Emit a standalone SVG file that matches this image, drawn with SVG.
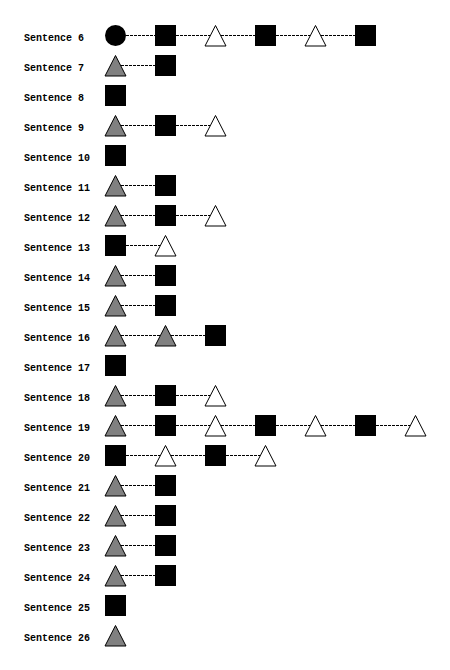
<svg xmlns="http://www.w3.org/2000/svg" xmlns:xlink="http://www.w3.org/1999/xlink" width="450" height="670" viewBox="0 0 450 670">
  <style>
    .lbl { font-family: "Liberation Mono", "DejaVu Sans Mono", monospace; font-size: 10px; font-weight: bold; fill: #000; }
    .link { stroke: #000; stroke-width: 1; stroke-dasharray: 3 1; fill: none; }
  </style>
  <defs>
    <!-- shapes drawn around their own centre -->
    <rect id="sq" x="-10.5" y="-10.5" width="21" height="21" fill="#000"/>
    <circle id="ci" cx="0" cy="0" r="10.5" fill="#000"/>
    <polygon id="tg" points="0,-10 -10.5,10.5 10.5,10.5" fill="#808080" stroke="#000" stroke-width="1"/>
    <polygon id="tw" points="0,-10 -10.5,10.5 10.5,10.5" fill="#fff" stroke="#000" stroke-width="1"/>
  </defs>
  <rect width="450" height="670" fill="#fff"/>

  <!-- dashed links between consecutive shapes -->
  <g id="connectors">
    <line class="link" x1="126" y1="35.5" x2="155" y2="35.5"/>
    <line class="link" x1="176" y1="35.5" x2="210" y2="35.5"/>
    <line class="link" x1="221" y1="35.5" x2="255" y2="35.5"/>
    <line class="link" x1="276" y1="35.5" x2="310" y2="35.5"/>
    <line class="link" x1="321" y1="35.5" x2="355" y2="35.5"/>

    <line class="link" x1="121" y1="65.5" x2="155" y2="65.5"/>

    <line class="link" x1="121" y1="125.5" x2="155" y2="125.5"/>
    <line class="link" x1="176" y1="125.5" x2="210" y2="125.5"/>

    <line class="link" x1="121" y1="185.5" x2="155" y2="185.5"/>

    <line class="link" x1="121" y1="215.5" x2="155" y2="215.5"/>
    <line class="link" x1="176" y1="215.5" x2="210" y2="215.5"/>

    <line class="link" x1="126" y1="245.5" x2="160" y2="245.5"/>

    <line class="link" x1="121" y1="275.5" x2="155" y2="275.5"/>
    <line class="link" x1="121" y1="305.5" x2="155" y2="305.5"/>

    <line class="link" x1="121" y1="335.5" x2="160" y2="335.5"/>
    <line class="link" x1="171" y1="335.5" x2="205" y2="335.5"/>

    <line class="link" x1="121" y1="395.5" x2="155" y2="395.5"/>
    <line class="link" x1="176" y1="395.5" x2="210" y2="395.5"/>

    <line class="link" x1="121" y1="425.5" x2="155" y2="425.5"/>
    <line class="link" x1="176" y1="425.5" x2="210" y2="425.5"/>
    <line class="link" x1="221" y1="425.5" x2="255" y2="425.5"/>
    <line class="link" x1="276" y1="425.5" x2="310" y2="425.5"/>
    <line class="link" x1="321" y1="425.5" x2="355" y2="425.5"/>
    <line class="link" x1="376" y1="425.5" x2="410" y2="425.5"/>

    <line class="link" x1="126" y1="455.5" x2="160" y2="455.5"/>
    <line class="link" x1="171" y1="455.5" x2="205" y2="455.5"/>
    <line class="link" x1="226" y1="455.5" x2="260" y2="455.5"/>

    <line class="link" x1="121" y1="485.5" x2="155" y2="485.5"/>
    <line class="link" x1="121" y1="515.5" x2="155" y2="515.5"/>
    <line class="link" x1="121" y1="545.5" x2="155" y2="545.5"/>
    <line class="link" x1="121" y1="575.5" x2="155" y2="575.5"/>
  </g>

  <!-- sentence labels -->
  <g id="labels">
    <g id="label-6"><text class="lbl" x="24" y="40.5">Sentence 6</text></g>
    <g id="label-7"><text class="lbl" x="24" y="70.5">Sentence 7</text></g>
    <g id="label-8"><text class="lbl" x="24" y="100.5">Sentence 8</text></g>
    <g id="label-9"><text class="lbl" x="24" y="130.5">Sentence 9</text></g>
    <g id="label-10"><text class="lbl" x="24" y="160.5">Sentence 10</text></g>
    <g id="label-11"><text class="lbl" x="24" y="190.5">Sentence 11</text></g>
    <g id="label-12"><text class="lbl" x="24" y="220.5">Sentence 12</text></g>
    <g id="label-13"><text class="lbl" x="24" y="250.5">Sentence 13</text></g>
    <g id="label-14"><text class="lbl" x="24" y="280.5">Sentence 14</text></g>
    <g id="label-15"><text class="lbl" x="24" y="310.5">Sentence 15</text></g>
    <g id="label-16"><text class="lbl" x="24" y="340.5">Sentence 16</text></g>
    <g id="label-17"><text class="lbl" x="24" y="370.5">Sentence 17</text></g>
    <g id="label-18"><text class="lbl" x="24" y="400.5">Sentence 18</text></g>
    <g id="label-19"><text class="lbl" x="24" y="430.5">Sentence 19</text></g>
    <g id="label-20"><text class="lbl" x="24" y="460.5">Sentence 20</text></g>
    <g id="label-21"><text class="lbl" x="24" y="490.5">Sentence 21</text></g>
    <g id="label-22"><text class="lbl" x="24" y="520.5">Sentence 22</text></g>
    <g id="label-23"><text class="lbl" x="24" y="550.5">Sentence 23</text></g>
    <g id="label-24"><text class="lbl" x="24" y="580.5">Sentence 24</text></g>
    <g id="label-25"><text class="lbl" x="24" y="610.5">Sentence 25</text></g>
    <g id="label-26"><text class="lbl" x="24" y="640.5">Sentence 26</text></g>
  </g>

  <!-- shapes: circle, black square, grey triangle, white triangle -->
  <g id="s6">
    <g id="s6-1"><use xlink:href="#ci" x="115.5" y="35.5"/></g>
    <g id="s6-2"><use xlink:href="#sq" x="165.5" y="35.5"/></g>
    <g id="s6-3"><use xlink:href="#tw" x="215.5" y="35.5"/></g>
    <g id="s6-4"><use xlink:href="#sq" x="265.5" y="35.5"/></g>
    <g id="s6-5"><use xlink:href="#tw" x="315.5" y="35.5"/></g>
    <g id="s6-6"><use xlink:href="#sq" x="365.5" y="35.5"/></g>
  </g>
  <g id="s7">
    <g id="s7-1"><use xlink:href="#tg" x="115.5" y="65.5"/></g>
    <g id="s7-2"><use xlink:href="#sq" x="165.5" y="65.5"/></g>
  </g>
  <g id="s8">
    <g id="s8-1"><use xlink:href="#sq" x="115.5" y="95.5"/></g>
  </g>
  <g id="s9">
    <g id="s9-1"><use xlink:href="#tg" x="115.5" y="125.5"/></g>
    <g id="s9-2"><use xlink:href="#sq" x="165.5" y="125.5"/></g>
    <g id="s9-3"><use xlink:href="#tw" x="215.5" y="125.5"/></g>
  </g>
  <g id="s10">
    <g id="s10-1"><use xlink:href="#sq" x="115.5" y="155.5"/></g>
  </g>
  <g id="s11">
    <g id="s11-1"><use xlink:href="#tg" x="115.5" y="185.5"/></g>
    <g id="s11-2"><use xlink:href="#sq" x="165.5" y="185.5"/></g>
  </g>
  <g id="s12">
    <g id="s12-1"><use xlink:href="#tg" x="115.5" y="215.5"/></g>
    <g id="s12-2"><use xlink:href="#sq" x="165.5" y="215.5"/></g>
    <g id="s12-3"><use xlink:href="#tw" x="215.5" y="215.5"/></g>
  </g>
  <g id="s13">
    <g id="s13-1"><use xlink:href="#sq" x="115.5" y="245.5"/></g>
    <g id="s13-2"><use xlink:href="#tw" x="165.5" y="245.5"/></g>
  </g>
  <g id="s14">
    <g id="s14-1"><use xlink:href="#tg" x="115.5" y="275.5"/></g>
    <g id="s14-2"><use xlink:href="#sq" x="165.5" y="275.5"/></g>
  </g>
  <g id="s15">
    <g id="s15-1"><use xlink:href="#tg" x="115.5" y="305.5"/></g>
    <g id="s15-2"><use xlink:href="#sq" x="165.5" y="305.5"/></g>
  </g>
  <g id="s16">
    <g id="s16-1"><use xlink:href="#tg" x="115.5" y="335.5"/></g>
    <g id="s16-2"><use xlink:href="#tg" x="165.5" y="335.5"/></g>
    <g id="s16-3"><use xlink:href="#sq" x="215.5" y="335.5"/></g>
  </g>
  <g id="s17">
    <g id="s17-1"><use xlink:href="#sq" x="115.5" y="365.5"/></g>
  </g>
  <g id="s18">
    <g id="s18-1"><use xlink:href="#tg" x="115.5" y="395.5"/></g>
    <g id="s18-2"><use xlink:href="#sq" x="165.5" y="395.5"/></g>
    <g id="s18-3"><use xlink:href="#tw" x="215.5" y="395.5"/></g>
  </g>
  <g id="s19">
    <g id="s19-1"><use xlink:href="#tg" x="115.5" y="425.5"/></g>
    <g id="s19-2"><use xlink:href="#sq" x="165.5" y="425.5"/></g>
    <g id="s19-3"><use xlink:href="#tw" x="215.5" y="425.5"/></g>
    <g id="s19-4"><use xlink:href="#sq" x="265.5" y="425.5"/></g>
    <g id="s19-5"><use xlink:href="#tw" x="315.5" y="425.5"/></g>
    <g id="s19-6"><use xlink:href="#sq" x="365.5" y="425.5"/></g>
    <g id="s19-7"><use xlink:href="#tw" x="415.5" y="425.5"/></g>
  </g>
  <g id="s20">
    <g id="s20-1"><use xlink:href="#sq" x="115.5" y="455.5"/></g>
    <g id="s20-2"><use xlink:href="#tw" x="165.5" y="455.5"/></g>
    <g id="s20-3"><use xlink:href="#sq" x="215.5" y="455.5"/></g>
    <g id="s20-4"><use xlink:href="#tw" x="265.5" y="455.5"/></g>
  </g>
  <g id="s21">
    <g id="s21-1"><use xlink:href="#tg" x="115.5" y="485.5"/></g>
    <g id="s21-2"><use xlink:href="#sq" x="165.5" y="485.5"/></g>
  </g>
  <g id="s22">
    <g id="s22-1"><use xlink:href="#tg" x="115.5" y="515.5"/></g>
    <g id="s22-2"><use xlink:href="#sq" x="165.5" y="515.5"/></g>
  </g>
  <g id="s23">
    <g id="s23-1"><use xlink:href="#tg" x="115.5" y="545.5"/></g>
    <g id="s23-2"><use xlink:href="#sq" x="165.5" y="545.5"/></g>
  </g>
  <g id="s24">
    <g id="s24-1"><use xlink:href="#tg" x="115.5" y="575.5"/></g>
    <g id="s24-2"><use xlink:href="#sq" x="165.5" y="575.5"/></g>
  </g>
  <g id="s25">
    <g id="s25-1"><use xlink:href="#sq" x="115.5" y="605.5"/></g>
  </g>
  <g id="s26">
    <g id="s26-1"><use xlink:href="#tg" x="115.5" y="635.5"/></g>
  </g>
</svg>
